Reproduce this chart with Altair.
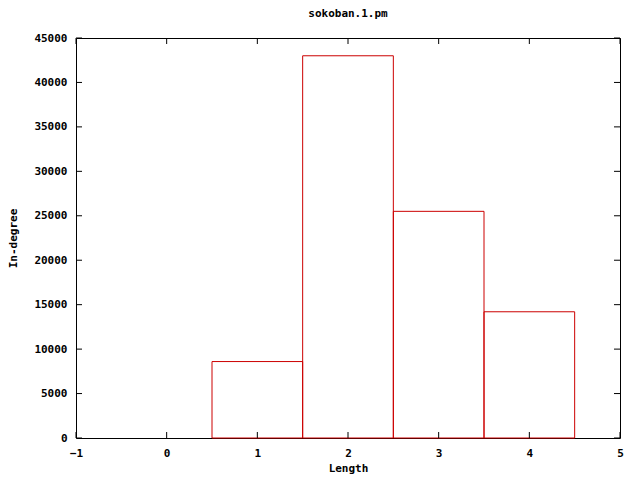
import altair as alt
import pandas as pd

lengths = [1, 2, 3, 4]
counts = [8600, 43000, 25500, 14200]
x_ticks = [-1, 0, 1, 2, 3, 4, 5]
y_ticks = [0, 5000, 10000, 15000, 20000, 25000, 30000, 35000, 40000, 45000]

W, H = 544, 400
FONT = "DejaVu Sans Mono"
RED = "#cc0000"

bars = pd.DataFrame({
    "start": [l - 0.5 for l in lengths],
    "end": [l + 0.5 for l in lengths],
    "count": counts,
})
xt = pd.DataFrame({"x": x_ticks})
yt = pd.DataFrame({"y": y_ticks})

xscale = alt.Scale(domain=[-1, 5], nice=False, zero=False)
yscale = alt.Scale(domain=[0, 45000], nice=False)

base_x = alt.X("start:Q", scale=xscale,
               axis=alt.Axis(values=x_ticks, format="d", ticks=False, domain=False, grid=False,
                             title="Length", labelFont=FONT, titleFont=FONT,
                             labelFontSize=11, titleFontSize=11, labelFontWeight="bold",
                             titleFontWeight="bold", labelColor="black", titleColor="black",
                             labelPadding=9, titlePadding=4, labelFlush=False))
base_y = alt.Y("count:Q", scale=yscale,
               axis=alt.Axis(values=y_ticks, format="d", ticks=False, domain=False, grid=False,
                             title="In-degree", labelFont=FONT, titleFont=FONT,
                             labelFontSize=11, titleFontSize=11, labelFontWeight="bold",
                             titleFontWeight="bold", labelColor="black", titleColor="black",
                             labelPadding=9, titlePadding=15))

rects = alt.Chart(bars).mark_rect(fill=None, stroke=RED, strokeWidth=1).encode(
    x=base_x, x2="end:Q", y=base_y, y2=alt.datum(0)
)

tick_len = 6
xb = alt.Chart(xt).mark_rule(color="black").encode(
    x=alt.X("x:Q", scale=xscale), y=alt.value(H), y2=alt.value(H - tick_len))
xtp = alt.Chart(xt).mark_rule(color="black").encode(
    x=alt.X("x:Q", scale=xscale), y=alt.value(0), y2=alt.value(tick_len))
yl = alt.Chart(yt).mark_rule(color="black").encode(
    y=alt.Y("y:Q", scale=yscale), x=alt.value(0), x2=alt.value(tick_len))
yr = alt.Chart(yt).mark_rule(color="black").encode(
    y=alt.Y("y:Q", scale=yscale), x=alt.value(W), x2=alt.value(W - tick_len))

chart = alt.layer(rects, xb, xtp, yl, yr).properties(
    width=W, height=H,
    title=alt.TitleParams("sokoban.1.pm", font=FONT, fontSize=11, fontWeight="bold",
                          color="black", offset=13),
    autosize=alt.AutoSizeParams(type="none"),
    padding={"left": 68, "top": 30, "right": 12, "bottom": 41},
).configure(background="white", view=alt.ViewConfig(stroke="black", strokeWidth=1))

chart.save("out.html", embed_options={"renderer": "svg", "actions": False})
